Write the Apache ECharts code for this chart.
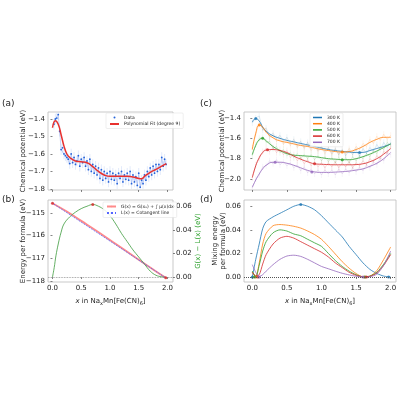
<!DOCTYPE html>
<html>
<head>
<meta charset="utf-8">
<script src="https://cdn.jsdelivr.net/npm/echarts@6.0.0/dist/echarts.min.js"></script>
<style>
  html, body { margin: 0; padding: 0; background: #fff; }
  #chart { width: 400px; height: 400px; }
</style>
</head>
<body>
<div id="chart"></div>
<script>
// ---- panel (a): chemical potential, raw data + polynomial fit
const xa = [0.025,0.05,0.075,0.1,0.125,0.15,0.175,0.2,0.225,0.25,0.275,0.3,0.325,0.35,0.375,0.4,0.425,0.45,0.475,0.5,
  0.525,0.55,0.575,0.6,0.625,0.65,0.675,0.7,0.725,0.75,0.775,0.8,0.825,0.85,0.875,0.9,0.925,0.95,0.975,1.0,
  1.025,1.05,1.075,1.1,1.125,1.15,1.175,1.2,1.225,1.25,1.275,1.3,1.325,1.35,1.375,1.4,1.425,1.45,1.475,1.5,
  1.525,1.55,1.575,1.6,1.625,1.65,1.675,1.7,1.725,1.75,1.775,1.8,1.825,1.85,1.875,1.9,1.925,1.95,1.975];
const ya = [-1.43,-1.40,-1.395,-1.375,-1.47,-1.575,-1.565,-1.60,-1.61,-1.62,
  -1.63,-1.655,-1.60,-1.65,-1.62,-1.66,-1.64,-1.61,-1.67,-1.63,
  -1.65,-1.62,-1.67,-1.64,-1.69,-1.63,-1.70,-1.66,-1.71,-1.67,
  -1.72,-1.68,-1.74,-1.69,-1.75,-1.70,-1.74,-1.71,-1.76,-1.70,
  -1.745,-1.71,-1.75,-1.72,-1.77,-1.71,-1.74,-1.70,-1.76,-1.72,
  -1.745,-1.71,-1.75,-1.70,-1.77,-1.72,-1.76,-1.73,-1.78,-1.71,
  -1.79,-1.75,-1.77,-1.72,-1.75,-1.70,-1.73,-1.68,-1.72,-1.67,
  -1.71,-1.66,-1.70,-1.66,-1.69,-1.62,-1.67,-1.63,-1.66];
const errA = 0.03;
const fitAX = [0,0.05,0.1,0.15,0.2,0.25,0.3,0.4,0.5,0.6,0.7,0.8,0.9,1.0,1.1,1.2,1.3,1.4,1.5,1.55,1.6,1.7,1.8,1.9,1.98];
const fitAY = [-1.45,-1.41,-1.43,-1.49,-1.555,-1.60,-1.62,-1.64,-1.645,-1.65,-1.672,-1.70,-1.72,-1.728,-1.728,-1.727,
  -1.728,-1.732,-1.740,-1.742,-1.728,-1.705,-1.688,-1.67,-1.655];

// ---- panel (b): free energy, cotangent line, difference
const gX = [0,0.25,0.5,0.75,1.0,1.25,1.5,1.75,1.97];
const gY = [-114.57,-114.94,-115.35,-115.76,-116.19,-116.62,-117.06,-117.49,-117.86];
const lX = [0,1.97];
const lY = [-114.57,-117.86];
const diffX = [0,0.03,0.06,0.1,0.15,0.2,0.3,0.4,0.5,0.6,0.7,0.8,0.9,1.0,1.1,1.2,1.3,1.4,1.5,1.6,1.7,1.8,1.9,1.95];
const diffY = [0,0.008,0.018,0.028,0.038,0.045,0.051,0.055,0.058,0.060,0.0615,0.060,0.057,0.052,0.045,0.037,
  0.030,0.023,0.017,0.011,0.005,0.0015,0.0002,0];
const gEnds = [[0,-114.57],[1.97,-117.86]];
const diffPeak = [[0.7,0.0615]];

// ---- panel (c): chemical potential at several temperatures
const temps = ['300 K','400 K','500 K','600 K','700 K'];
const colors = ['#1f77b4','#ff7f0e','#2ca02c','#d62728','#9467bd'];
const rawX = [0,0.05,0.1,0.15,0.2,0.25,0.3,0.35,0.4,0.45,0.5,0.55,0.6,0.65,0.7,0.75,0.8,0.85,0.9,0.95,1.0,
  1.05,1.1,1.15,1.2,1.25,1.3,1.35,1.4,1.45,1.5,1.55,1.6,1.65,1.7,1.75,1.8,1.85,1.9,1.95,2.0];
const raw300 = [-1.45,-1.40,-1.38,-1.52,-1.50,-1.58,-1.55,-1.60,-1.57,-1.63,-1.59,-1.65,-1.61,-1.67,-1.63,-1.69,-1.64,-1.70,-1.66,-1.72,
  -1.68,-1.73,-1.69,-1.75,-1.70,-1.76,-1.71,-1.77,-1.72,-1.76,-1.71,-1.78,-1.70,-1.75,-1.69,-1.73,-1.66,-1.71,-1.64,-1.69,-1.64];
const raw400 = [-1.70,-1.56,-1.45,-1.50,-1.52,-1.59,-1.57,-1.63,-1.60,-1.66,-1.62,-1.67,-1.63,-1.69,-1.65,-1.70,-1.66,-1.72,-1.68,-1.73,
  -1.69,-1.75,-1.70,-1.76,-1.71,-1.76,-1.72,-1.75,-1.70,-1.74,-1.68,-1.71,-1.65,-1.68,-1.61,-1.65,-1.58,-1.62,-1.56,-1.61,-1.57];
const raw500 = [-1.77,-1.66,-1.60,-1.59,-1.64,-1.63,-1.70,-1.68,-1.74,-1.71,-1.77,-1.74,-1.79,-1.75,-1.80,-1.76,-1.80,-1.76,-1.81,-1.77,
  -1.82,-1.78,-1.83,-1.79,-1.84,-1.79,-1.83,-1.79,-1.84,-1.78,-1.82,-1.77,-1.80,-1.75,-1.78,-1.72,-1.75,-1.68,-1.71,-1.64,-1.67];
const raw600 = [-1.99,-1.86,-1.80,-1.73,-1.70,-1.73,-1.69,-1.74,-1.71,-1.76,-1.72,-1.79,-1.76,-1.82,-1.79,-1.85,-1.81,-1.87,-1.83,-1.88,
  -1.84,-1.89,-1.84,-1.88,-1.83,-1.89,-1.84,-1.88,-1.83,-1.89,-1.84,-1.87,-1.82,-1.86,-1.80,-1.83,-1.77,-1.80,-1.73,-1.75,-1.68];
const raw700 = [-2.09,-2.00,-1.96,-1.88,-1.87,-1.82,-1.85,-1.81,-1.86,-1.83,-1.87,-1.84,-1.89,-1.86,-1.92,-1.88,-1.94,-1.90,-1.95,-1.91,
  -1.96,-1.91,-1.95,-1.91,-1.96,-1.90,-1.95,-1.90,-1.94,-1.89,-1.93,-1.88,-1.92,-1.86,-1.89,-1.83,-1.86,-1.79,-1.82,-1.74,-1.76];
const errC = 0.03;
const fitX = [0,0.05,0.1,0.15,0.2,0.3,0.4,0.5,0.6,0.7,0.8,0.9,1.0,1.1,1.2,1.3,1.4,1.5,1.6,1.7,1.8,1.9,2.0];
const fit300 = [-1.44,-1.405,-1.43,-1.49,-1.53,-1.575,-1.60,-1.62,-1.635,-1.65,-1.665,-1.68,-1.695,-1.71,-1.72,-1.728,-1.735,-1.74,-1.738,-1.72,-1.70,-1.68,-1.655];
const fit400 = [-1.71,-1.55,-1.47,-1.49,-1.54,-1.595,-1.625,-1.64,-1.655,-1.67,-1.68,-1.695,-1.71,-1.72,-1.73,-1.735,-1.73,-1.71,-1.68,-1.64,-1.61,-1.59,-1.59];
const fit500 = [-1.76,-1.67,-1.615,-1.60,-1.625,-1.68,-1.72,-1.75,-1.765,-1.77,-1.775,-1.78,-1.79,-1.80,-1.805,-1.81,-1.81,-1.80,-1.78,-1.755,-1.725,-1.69,-1.655];
const fit600 = [-1.985,-1.87,-1.79,-1.74,-1.715,-1.71,-1.72,-1.74,-1.775,-1.805,-1.83,-1.85,-1.855,-1.858,-1.86,-1.86,-1.86,-1.858,-1.85,-1.83,-1.80,-1.755,-1.70];
const fit700 = [-2.08,-2.01,-1.95,-1.90,-1.865,-1.835,-1.835,-1.845,-1.865,-1.89,-1.915,-1.93,-1.935,-1.935,-1.932,-1.928,-1.922,-1.912,-1.90,-1.875,-1.845,-1.80,-1.74];
const tanC = [
  [[0.05,-1.405],[1.55,-1.74]],
  [[0.1,-1.47],[1.3,-1.735]],
  [[0.15,-1.60],[1.3,-1.81]],
  [[0.22,-1.712],[0.9,-1.85]],
  [[0.33,-1.835],[0.86,-1.93]]
];

// ---- panel (d): mixing energy
const dm300 = [0,0.015,0.028,0.041,0.047,0.051,0.054,0.057,0.060,0.0615,0.060,0.057,0.052,0.046,0.040,0.034,0.026,0.019,0.012,0.0065,0.003,0.0008,0];
const dm400 = [0.004,0.0,0.012,0.028,0.037,0.0435,0.0445,0.044,0.043,0.0415,0.039,0.036,0.032,0.026,0.0195,0.013,0.0075,0.003,0.0003,0.0008,0.0055,0.015,0.0255];
const dm500 = [0.005,0.0,0.010,0.022,0.030,0.0375,0.040,0.039,0.0365,0.035,0.032,0.029,0.026,0.020,0.014,0.009,0.005,0.002,0.0002,0.0008,0.004,0.011,0.020];
const dm600 = [0.004,0.001,0.002,0.011,0.019,0.028,0.033,0.0345,0.033,0.030,0.027,0.024,0.021,0.017,0.012,0.008,0.004,0.0015,0.0002,0.0005,0.0035,0.010,0.019];
const dm700 = [0.0105,0.004,0.0005,0.002,0.005,0.0105,0.015,0.0178,0.0185,0.0175,0.015,0.012,0.009,0.007,0.005,0.0032,0.0018,0.0007,0.0001,0.0003,0.0025,0.010,0.022];
const ptsD = [
  [[0.0,0],[0.7,0.0615],[1.97,0]],
  [[0.05,0],[1.62,0]],
  [[0.03,0],[1.63,0]],
  [[0.08,0],[1.65,0]],
  [[0.1,0],[1.6,0]]
];

const xTicks = [0, 0.5, 1.0, 1.5, 2.0];
const F = 'DejaVu Sans';
const G_NAME = 'G(x) = G(x\u2080) + \u222B \u03BC(x)dx';
const L_NAME = 'L(x) = Cotangent line';

const rawC = [raw300, raw400, raw500, raw600, raw700];
const fitC = [fit300, fit400, fit500, fit600, fit700];
const mixD = [dm300, dm400, dm500, dm600, dm700];

const zip = (xs, ys) => xs.map((x, i) => [x, ys[i]]);
const minus = s => s.replace('-', '\u2212');

function errorBars(xs, ys, err, color, xi, yi) {
  return {
    type: 'custom', xAxisIndex: xi, yAxisIndex: yi, silent: true, z: 1, clip: true,
    data: xs.map((x, i) => [x, ys[i] - err, ys[i] + err]),
    renderItem: (params, api) => {
      const p1 = api.coord([api.value(0), api.value(1)]);
      const p2 = api.coord([api.value(0), api.value(2)]);
      return { type: 'line', shape: { x1: p1[0], y1: p1[1], x2: p2[0], y2: p2[1] },
        style: { stroke: color, lineWidth: 0.5 } };
    }
  };
}

const xName = '{i|x} in Na{s|x}Mn[Fe(CN){s|6}]';
const nameStyle = {
  fontSize: 7, fontFamily: F, color: '#222',
  rich: {
    i: { fontSize: 7, fontFamily: F, fontStyle: 'italic', color: '#222' },
    s: { fontSize: 5, fontFamily: F, color: '#222', padding: [4, 0, 0, 0] }
  }
};

function xAxis(grid, min, max, labels) {
  return {
    type: 'value', gridIndex: grid, min, max,
    name: labels ? xName : '', nameLocation: 'middle', nameGap: 15, nameTextStyle: nameStyle,
    axisLine: { show: false }, splitLine: { show: false },
    axisTick: { show: true, length: 2, customValues: xTicks, lineStyle: { color: '#333', width: 0.6 } },
    axisLabel: { show: labels, customValues: xTicks, fontSize: 7, fontFamily: F, color: '#222', margin: 3,
      formatter: v => v.toFixed(1) }
  };
}

function yAxis(grid, min, max, ticks, dec, extra) {
  return Object.assign({
    type: 'value', gridIndex: grid, min, max,
    axisLine: { show: false }, splitLine: { show: false },
    axisTick: { show: true, length: 2, customValues: ticks, lineStyle: { color: '#333', width: 0.6 } },
    axisLabel: { customValues: ticks, fontSize: 7, fontFamily: F, color: '#222', margin: 3,
      formatter: v => minus(v.toFixed(dec)) }
  }, extra || {});
}

// rotated y-axis titles placed as text
function yTitle(text, x, y, color) {
  return { type: 'text', x, y, rotation: Math.PI / 2,
    style: { text, fontSize: 7, fontFamily: F, fill: color || '#222', align: 'center',
      verticalAlign: 'middle', lineHeight: 8 } };
}

const gridBase = { show: true, borderColor: '#bbb', borderWidth: 0.8, outerBoundsMode: 'none' };

const legendBase = {
  orient: 'vertical', itemWidth: 9, itemHeight: 2, itemGap: 1.5, padding: [2, 3],
  borderColor: '#ddd', borderWidth: 0.5, borderRadius: 1, backgroundColor: 'rgba(255,255,255,0.85)',
  textStyle: { fontSize: 4.5, fontFamily: F, color: '#222' }
};

const series = [
  // (a)
  errorBars(xa, ya, errA, '#c4d4f6', 0, 0),
  { name: 'Data', type: 'line', xAxisIndex: 0, yAxisIndex: 0, data: zip(xa, ya),
    symbol: 'circle', symbolSize: 1.8, lineStyle: { width: 0.5, color: '#8eaaf0' },
    itemStyle: { color: '#2563d9' }, z: 3 },
  { name: 'Polynomial Fit (degree 9)', type: 'line', xAxisIndex: 0, yAxisIndex: 0,
    data: zip(fitAX, fitAY), smooth: 0.5, symbol: 'none',
    lineStyle: { width: 1.5, color: '#e8312f' }, itemStyle: { color: '#e8312f' }, z: 4 },
  // (b)
  { name: G_NAME, type: 'line', xAxisIndex: 1, yAxisIndex: 1, data: zip(gX, gY), smooth: true,
    symbol: 'none', lineStyle: { width: 1.8, color: '#ff8a8a' }, itemStyle: { color: '#ff8a8a' }, z: 2 },
  { name: L_NAME, type: 'line', xAxisIndex: 1, yAxisIndex: 1, data: zip(lX, lY), symbol: 'none',
    lineStyle: { width: 1, color: '#5566ff', type: 'dotted' }, itemStyle: { color: '#5566ff' }, z: 3 },
  { type: 'line', xAxisIndex: 1, yAxisIndex: 2, data: zip(diffX, diffY), smooth: 0.4, symbol: 'none',
    lineStyle: { width: 0.8, color: '#3c9a3c' }, z: 2,
    markLine: { silent: true, symbol: 'none', label: { show: false },
      lineStyle: { type: 'dotted', color: '#888', width: 0.8 }, data: [{ yAxis: 0 }] } },
  { type: 'scatter', xAxisIndex: 1, yAxisIndex: 1, data: gEnds, symbolSize: 3,
    itemStyle: { color: '#d62728' }, z: 5 },
  { type: 'scatter', xAxisIndex: 1, yAxisIndex: 2, data: diffPeak, symbolSize: 3,
    itemStyle: { color: '#d62728' }, z: 5 }
];

// (c) and (d)
temps.forEach((t, k) => {
  const c = colors[k];
  series.push(errorBars(rawX, rawC[k], errC, echarts.color.modifyAlpha(c, 0.15), 2, 3));
  series.push({ type: 'line', xAxisIndex: 2, yAxisIndex: 3, data: zip(rawX, rawC[k]), symbol: 'none',
    lineStyle: { width: 0.6, color: echarts.color.modifyAlpha(c, 0.25) }, z: 2 });
  series.push({ name: t, type: 'line', xAxisIndex: 2, yAxisIndex: 3, data: zip(fitX, fitC[k]), smooth: 0.5,
    symbol: 'none', lineStyle: { width: 0.8, color: c }, itemStyle: { color: c }, z: 3 });
  series.push({ type: 'scatter', xAxisIndex: 2, yAxisIndex: 3, data: tanC[k], symbolSize: 3,
    itemStyle: { color: c }, z: 4 });
  series.push({ type: 'line', xAxisIndex: 3, yAxisIndex: 4, data: zip(fitX, mixD[k]), smooth: 0.25,
    symbol: 'none', lineStyle: { width: 0.8, color: c }, z: 3,
    markLine: k === 0 ? { silent: true, symbol: 'none', label: { show: false },
      lineStyle: { type: 'dotted', color: '#555', width: 1 }, data: [{ yAxis: 0 }] } : undefined });
  series.push({ type: 'scatter', xAxisIndex: 3, yAxisIndex: 4, data: ptsD[k], symbolSize: 3,
    itemStyle: { color: c }, z: 4 });
});

const chart = echarts.init(document.getElementById('chart'), null, { renderer: 'canvas' });
chart.setOption({
  animation: false,
  backgroundColor: '#fff',
  grid: [
    Object.assign({ left: 48, top: 112, width: 125, height: 78 }, gridBase),
    Object.assign({ left: 48, top: 200, width: 125, height: 82 }, gridBase),
    Object.assign({ left: 244, top: 112, width: 152, height: 78 }, gridBase),
    Object.assign({ left: 244, top: 200, width: 152, height: 82 }, gridBase)
  ],
  xAxis: [
    xAxis(0, -0.078, 2.096, false),
    xAxis(1, -0.078, 2.096, true),
    xAxis(2, -0.12, 2.077, false),
    xAxis(3, -0.12, 2.077, true)
  ],
  yAxis: [
    yAxis(0, -1.806, -1.36, [-1.8, -1.7, -1.6, -1.5, -1.4], 1),
    yAxis(1, -118.044, -114.43, [-118, -117, -116, -115], 0),
    yAxis(1, -0.0042, 0.0653, [0, 0.02, 0.04, 0.06], 2, { position: 'right' }),
    yAxis(2, -2.108, -1.341, [-2.0, -1.8, -1.6, -1.4], 1),
    yAxis(3, -0.0042, 0.0653, [0, 0.02, 0.04, 0.06], 2)
  ],
  legend: [
    Object.assign({}, legendBase, { left: 106, top: 113,
      data: [{ name: 'Data', icon: 'circle' }, 'Polynomial Fit (degree 9)'] }),
    Object.assign({}, legendBase, { left: 103, top: 202, data: [G_NAME, L_NAME] }),
    Object.assign({}, legendBase, { left: 310, top: 113, itemGap: 1.2, itemHeight: 1.5,
      data: temps.map(t => ({ name: t, icon: 'rect' })) })
  ],
  graphic: [
    { type: 'text', left: 2, top: 99, style: { text: '(a)', fontSize: 9, fontFamily: F, fill: '#222' } },
    { type: 'text', left: 2, top: 195, style: { text: '(b)', fontSize: 9, fontFamily: F, fill: '#222' } },
    { type: 'text', left: 200, top: 99, style: { text: '(c)', fontSize: 9, fontFamily: F, fill: '#222' } },
    { type: 'text', left: 200, top: 195, style: { text: '(d)', fontSize: 9, fontFamily: F, fill: '#222' } },
    yTitle('Chemical potential (eV)', 23, 151),
    yTitle('Energy per formula (eV)', 23, 241),
    yTitle('G(x) \u2212 L(x) (eV)', 198, 241, '#2ca02c'),
    yTitle('Chemical potential (eV)', 222, 151),
    yTitle('Mixing energy\nper formula (eV)', 219, 241)
  ],
  series
});
</script>
</body>
</html>
